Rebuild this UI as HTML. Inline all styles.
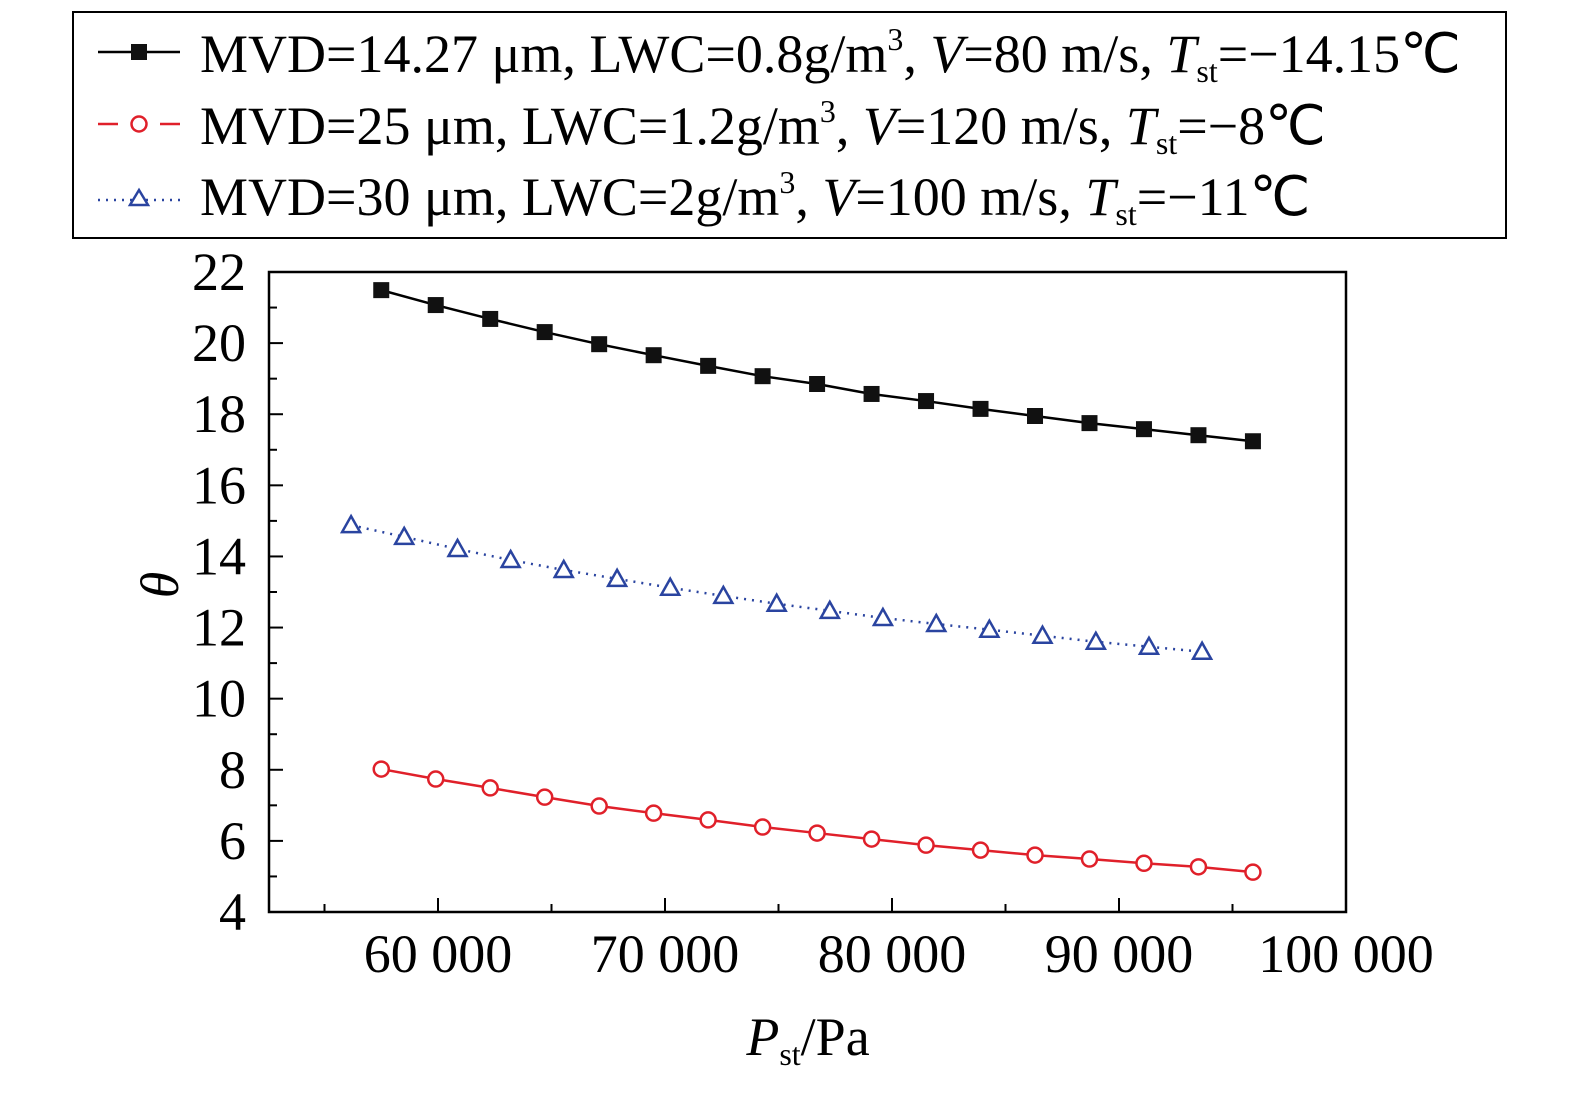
<!DOCTYPE html>
<html><head><meta charset="utf-8"><style>
body{margin:0;background:#fff;}
svg{display:block;font-family:"Liberation Serif",serif;}
</style></head><body>
<svg id="chart" width="1575" height="1093" viewBox="0 0 1575 1093" xmlns="http://www.w3.org/2000/svg">
<g id="legend">
<rect x="73" y="12" width="1433" height="226" fill="#fff" stroke="#000" stroke-width="2"/>
<g>
<line x1="98" y1="52" x2="180" y2="52" stroke="#000" stroke-width="2.5"/>
<rect x="131" y="44" width="16" height="16" fill="#111"/>
<text x="200" y="72" font-size="54">MVD=14.27 μm, LWC=0.8g/m<tspan font-size="32" dy="-22">3</tspan><tspan dy="22">, </tspan><tspan font-style="italic">V</tspan>=80 m/s, <tspan font-style="italic">T</tspan><tspan font-size="32" dy="10">st</tspan><tspan dy="-10">=−14.15℃</tspan></text>
</g>
<g>
<line x1="98" y1="124" x2="118" y2="124" stroke="#e0202a" stroke-width="2.5"/>
<line x1="160" y1="124" x2="180" y2="124" stroke="#e0202a" stroke-width="2.5"/>
<circle cx="139" cy="124" r="7.5" fill="#fff" stroke="#e0202a" stroke-width="2.5"/>
<text x="200" y="144" font-size="54">MVD=25 μm, LWC=1.2g/m<tspan font-size="32" dy="-22">3</tspan><tspan dy="22">, </tspan><tspan font-style="italic">V</tspan>=120 m/s, <tspan font-style="italic">T</tspan><tspan font-size="32" dy="10">st</tspan><tspan dy="-10">=−8℃</tspan></text>
</g>
<g>
<line x1="98" y1="200" x2="180" y2="200" stroke="#2a44a0" stroke-width="2.5" stroke-dasharray="2,6"/>
<polygon points="139,190 148,205 130,205" fill="#fff" stroke="#2a44a0" stroke-width="2.5"/>
<text x="200" y="215" font-size="54">MVD=30 μm, LWC=2g/m<tspan font-size="32" dy="-22">3</tspan><tspan dy="22">, </tspan><tspan font-style="italic">V</tspan>=100 m/s, <tspan font-style="italic">T</tspan><tspan font-size="32" dy="10">st</tspan><tspan dy="-10">=−11℃</tspan></text>
</g>
</g>
<g id="axes"></g>
<g id="series"></g>
<text transform="translate(178,585) rotate(-90)" font-size="54" font-style="italic" text-anchor="middle">θ</text>
<text x="808" y="1055" font-size="54" text-anchor="middle"><tspan font-style="italic">P</tspan><tspan font-size="32" dy="10">st</tspan><tspan dy="-10">/Pa</tspan></text>
</svg>
<script>
const xTicks=[60000,70000,80000,90000,100000];
const xTickLabels=["60 000","70 000","80 000","90 000","100 000"];
const yTicks=[4,6,8,10,12,14,16,18,20,22];
const blackX=[57500,59900,62300,64700,67100,69500,71900,74300,76700,79100,81500,83900,86300,88700,91100,93500,95900];
const blackY=[21.49,21.07,20.68,20.31,19.97,19.66,19.36,19.07,18.85,18.57,18.37,18.15,17.95,17.75,17.58,17.41,17.24];
const redX=[57500,59900,62300,64700,67100,69500,71900,74300,76700,79100,81500,83900,86300,88700,91100,93500,95900];
const redY=[8.02,7.74,7.49,7.23,6.98,6.78,6.59,6.39,6.22,6.05,5.88,5.74,5.60,5.49,5.37,5.27,5.12];
const blueX=[56170,58510,60860,63200,65540,67890,70230,72570,74920,77260,79600,81950,84290,86630,88980,91320,93660];
const blueY=[14.88,14.55,14.21,13.90,13.62,13.37,13.12,12.89,12.67,12.47,12.27,12.10,11.94,11.77,11.60,11.46,11.32];

const L=269,R=1346,T=272,B=912,X0=60000,X1=100000;
const xs=v=>438+(v-X0)*(R-438)/(X1-X0);
const ys=v=>B-(v-4)*(B-T)/18;
const NS="http://www.w3.org/2000/svg";
function mk(tag,attrs,parent){const e=document.createElementNS(NS,tag);for(const k in attrs)e.setAttribute(k,attrs[k]);parent.appendChild(e);return e;}
const axes=document.getElementById('axes');
const frame=mk('rect',{x:L,y:T,width:R-L,height:B-T,fill:'none',stroke:'#000','stroke-width':2.5},axes);


for(let v=55000;v<=100000;v+=5000){
 const major=v%10000===0;
 const t=mk('line',{x1:xs(v),x2:xs(v),y1:B,y2:B-(major?14:8),stroke:'#000','stroke-width':2},axes);
 
 
}
xTicks.forEach((v,i)=>{
 const t=mk('text',{x:xs(v),y:972,'font-size':54,'text-anchor':'middle'},axes);t.textContent=xTickLabels[i];
 
 
});
for(let v=5;v<22;v+=2){
 const t=mk('line',{x1:L,x2:L+8,y1:ys(v),y2:ys(v),stroke:'#000','stroke-width':2},axes);
 
 
}
yTicks.forEach(v=>{
 const l=mk('line',{x1:L,x2:L+14,y1:ys(v),y2:ys(v),stroke:'#000','stroke-width':2},axes);
 
 
 const t=mk('text',{x:246,y:ys(v)+18,'font-size':54,'text-anchor':'end'},axes);t.textContent=v;
 
 
});
const sg=document.getElementById('series');
function series(X,Y,color,dash,kind,name){
 const g=mk('g',{},sg);
 
 
 const pts=X.map((x,i)=>xs(x)+','+ys(Y[i])).join(' ');
 const a={points:pts,fill:'none',stroke:color,'stroke-width':2.5};if(dash)a['stroke-dasharray']=dash;
 mk('polyline',a,g);
 X.forEach((x,i)=>{
  const cx=xs(x),cy=ys(Y[i]);let m;
  if(kind==='sq')m=mk('rect',{x:cx-8,y:cy-8,width:16,height:16,fill:'#111'},g);
  else if(kind==='ci')m=mk('circle',{cx,cy,r:7.5,fill:'#fff',stroke:color,'stroke-width':2.5},g);
  else m=mk('polygon',{points:`${cx},${cy-9} ${cx+9},${cy+7} ${cx-9},${cy+7}`,fill:'#fff',stroke:color,'stroke-width':2.5},g);
  
  
 });
}
series(blackX,blackY,'#000',null,'sq','series-black');
series(redX,redY,'#e0202a',null,'ci','series-red');
series(blueX,blueY,'#2a44a0','2,6','tr','series-blue');
</script>
</body></html>
